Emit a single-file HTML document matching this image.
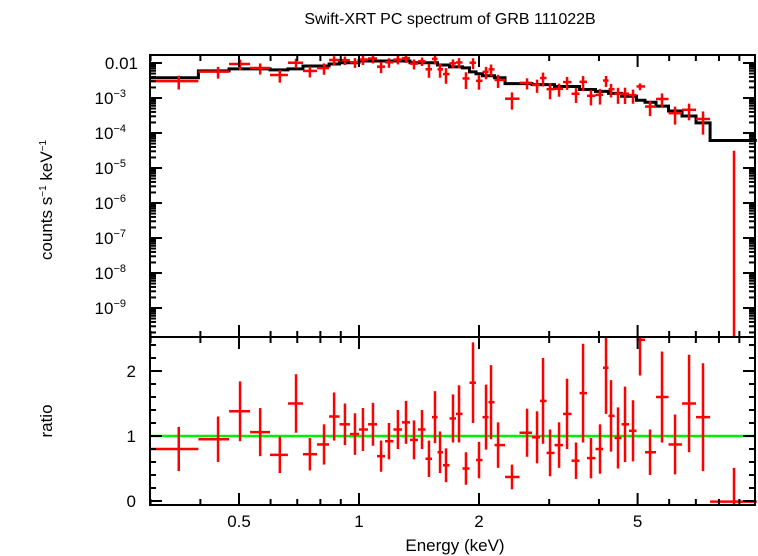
<!DOCTYPE html>
<html><head><meta charset="utf-8"><style>
html,body{margin:0;padding:0;background:#fff;}
svg{display:block;font-family:"Liberation Sans",sans-serif;}
</style></head><body>
<svg id="chart" width="758" height="556" viewBox="0 0 758 556" xmlns="http://www.w3.org/2000/svg">
<text x="450" y="24" font-size="16" text-anchor="middle">Swift-XRT PC spectrum of GRB 111022B</text>
<text transform="translate(52,200) rotate(-90)" font-size="17" text-anchor="middle">counts s<tspan font-size="10" dy="-6">−1</tspan><tspan dy="6"> keV</tspan><tspan font-size="10" dy="-6">−1</tspan></text>
<text transform="translate(52,421) rotate(-90)" font-size="17" text-anchor="middle">ratio</text>
<text x="455" y="551" font-size="17" text-anchor="middle">Energy (keV)</text>
<g id="g"></g>
</svg>
<script>
const energies=[0.353,0.443,0.503,0.565,0.633,0.695,0.753,0.817,0.866,0.922,0.977,1.023,1.084,1.136,1.189,1.252,1.312,1.374,1.439,1.498,1.551,1.597,1.653,1.721,1.782,1.855,1.932,2.0,2.083,2.144,2.233,2.42,2.64,2.797,2.895,3.015,3.176,3.326,3.503,3.648,3.819,4.024,4.166,4.288,4.465,4.649,4.869,5.07,5.372,5.757,6.207,6.73,7.295,8.726];
const ratios=[0.8,0.95,1.38,1.06,0.71,1.5,0.72,0.87,1.3,1.18,1.03,1.1,1.18,0.69,0.92,1.1,1.21,0.94,1.1,0.65,1.29,0.75,0.55,1.27,1.34,0.5,1.82,0.63,1.29,1.52,0.86,0.37,1.05,0.98,1.54,0.74,0.86,1.34,0.62,1.66,0.66,0.8,2.05,1.31,0.97,1.18,1.08,2.48,0.75,1.6,0.87,1.5,1.29,-0.01];
const ratioErrs=[0.34,0.35,0.46,0.37,0.28,0.45,0.25,0.31,0.37,0.32,0.32,0.33,0.33,0.24,0.28,0.3,0.33,0.3,0.3,0.28,0.4,0.32,0.26,0.37,0.44,0.25,0.62,0.28,0.5,0.57,0.35,0.19,0.37,0.4,0.66,0.36,0.35,0.54,0.28,0.76,0.31,0.38,0.71,0.55,0.47,0.58,0.47,0.55,0.35,0.7,0.46,0.75,0.83,0.52];
const model=[3.8e-3,5.97e-3,6.79e-3,6.79e-3,6.37e-3,6.79e-3,8.24e-3,8.24e-3,9.37e-3,0.0102,0.0102,0.0114,0.0114,0.0114,0.0114,0.0114,0.0114,0.0102,0.0102,0.0102,0.0102,8.79e-3,8.79e-3,7.73e-3,7.73e-3,7.24e-3,5.6e-3,4.92e-3,4.33e-3,4.33e-3,3.8e-3,2.58e-3,2.58e-3,2.42e-3,2.42e-3,2.42e-3,2.13e-3,2.13e-3,2.13e-3,1.75e-3,1.75e-3,1.54e-3,1.54e-3,1.36e-3,1.36e-3,1.12e-3,1.12e-3,8.63e-4,7.59e-4,5.86e-4,4.24e-4,3.07e-4,1.95e-4,6.12e-5];
const xTickLabels=[0.5,1,2,5];
const yTopExps=[-2,-3,-4,-5,-6,-7,-8,-9];
const ratioTickLabels=[0,1,2];

const NS="http://www.w3.org/2000/svg";
const g=document.getElementById('g');
const L=150,R=755,T1=55,B1=337,B2=505;
const x=e=>359+398.6*Math.log10(e);
const yTop=v=>63-35*(Math.log10(v)+2);
const yR=r=>436-65*(r-1);
function el(tag,attrs,parent){const e=document.createElementNS(NS,tag);for(const k in attrs)e.setAttribute(k,attrs[k]);(parent||g).appendChild(e);return e;}
function clampT(v){return Math.max(T1,Math.min(B1,v));}
function clampB(v){return Math.max(B1,Math.min(B2,v));}

const edges=[0.3];
for(let i=0;i<energies.length-1;i++)edges.push(Math.sqrt(energies[i]*energies[i+1]));
edges.push(9.95);
edges[edges.length-2]=Math.min(edges[edges.length-2],7.6);

let d='';
model.forEach((m,i)=>{const y=yTop(m);d+=(i?'L':'M')+x(edges[i])+','+y+'L'+x(edges[i+1])+','+y;});
const ml=el('path',{d:d,fill:'none',stroke:'#000','stroke-width':3});



const gl=el('line',{x1:L,x2:R,y1:yR(1),y2:yR(1),stroke:'#00ee00','stroke-width':2.5});



energies.forEach((e,i)=>{
  const x0=x(edges[i]),x1=x(edges[i+1]),xc=x(e);
  const val=ratios[i]*model[i],err=ratioErrs[i]*model[i];
  const grp=el('g',{stroke:'#f00','stroke-width':2.5});
  
  
  const hi=val+err,lo=val-err;
  const yh=clampT(yTop(hi)),yl=lo>0?clampT(yTop(lo)):B1;
  el('line',{x1:xc,x2:xc,y1:yh,y2:yl},grp);
  if(val>0){const yv=yTop(val);if(yv>=T1&&yv<=B1)el('line',{x1:x0,x2:x1,y1:yv,y2:yv},grp);}
  const rg=el('g',{stroke:'#f00','stroke-width':2.5});
  
  
  el('line',{x1:xc,x2:xc,y1:clampB(yR(ratios[i]+ratioErrs[i])),y2:clampB(yR(ratios[i]-ratioErrs[i]))},rg);
  el('line',{x1:x0,x2:x1,y1:clampB(yR(ratios[i])),y2:clampB(yR(ratios[i]))},rg);
});

[[T1,B1,'top-panel-frame'],[B1,B2,'bottom-panel-frame']].forEach(([t,b,n])=>{
  const r=el('rect',{x:L,y:t,width:R-L,height:b-t,fill:'none',stroke:'#000','stroke-width':2});
  
  
});

const ticks=el('g',{stroke:'#000','stroke-width':2});


const minors=[0.3,0.4,0.5,0.6,0.7,0.8,0.9,1,2,3,4,5,6,7,8,9];
minors.forEach(v=>{
  const xx=x(v),maj=xTickLabels.includes(v),len=maj?12:6;
  [[T1,1],[B1,-1],[B1,1],[B2,-1]].forEach(([y0,s])=>el('line',{x1:xx,x2:xx,y1:y0,y2:y0+s*len},ticks));
});
xTickLabels.forEach(v=>{
  const t=el('text',{x:x(v),y:527,'font-size':17,'text-anchor':'middle'});
  t.textContent=String(v);
  
  
});
for(let ex=-10;ex<=-2;ex++){
  for(let k=1;k<10;k++){
    const yy=yTop(k*Math.pow(10,ex));
    if(yy<T1||yy>B1)continue;
    const len=k===1?12:6;
    el('line',{x1:L,x2:L+len,y1:yy,y2:yy},ticks);
    el('line',{x1:R,x2:R-len,y1:yy,y2:yy},ticks);
  }
}
yTopExps.forEach(ex=>{
  const yy=yTop(Math.pow(10,ex));
  const t=el('text',{x:138,y:yy+6,'font-size':17,'text-anchor':'end'});
  
  
  if(ex===-2){t.textContent='0.01';}
  else{t.setAttribute('x',126);t.innerHTML='10<tspan font-size="11" dy="-7">−'+(-ex)+'</tspan>';}
});
for(let r=0;r<=2.5;r+=0.2){
  const rr=Math.round(r*10)/10,yy=yR(rr);
  const len=Number.isInteger(rr)?12:6;
  el('line',{x1:L,x2:L+len,y1:yy,y2:yy},ticks);
  el('line',{x1:R,x2:R-len,y1:yy,y2:yy},ticks);
}
ratioTickLabels.forEach(v=>{
  const t=el('text',{x:136,y:yR(v)+6,'font-size':17,'text-anchor':'end'});
  t.textContent=String(v);
  
  
});
</script>
</body></html>
